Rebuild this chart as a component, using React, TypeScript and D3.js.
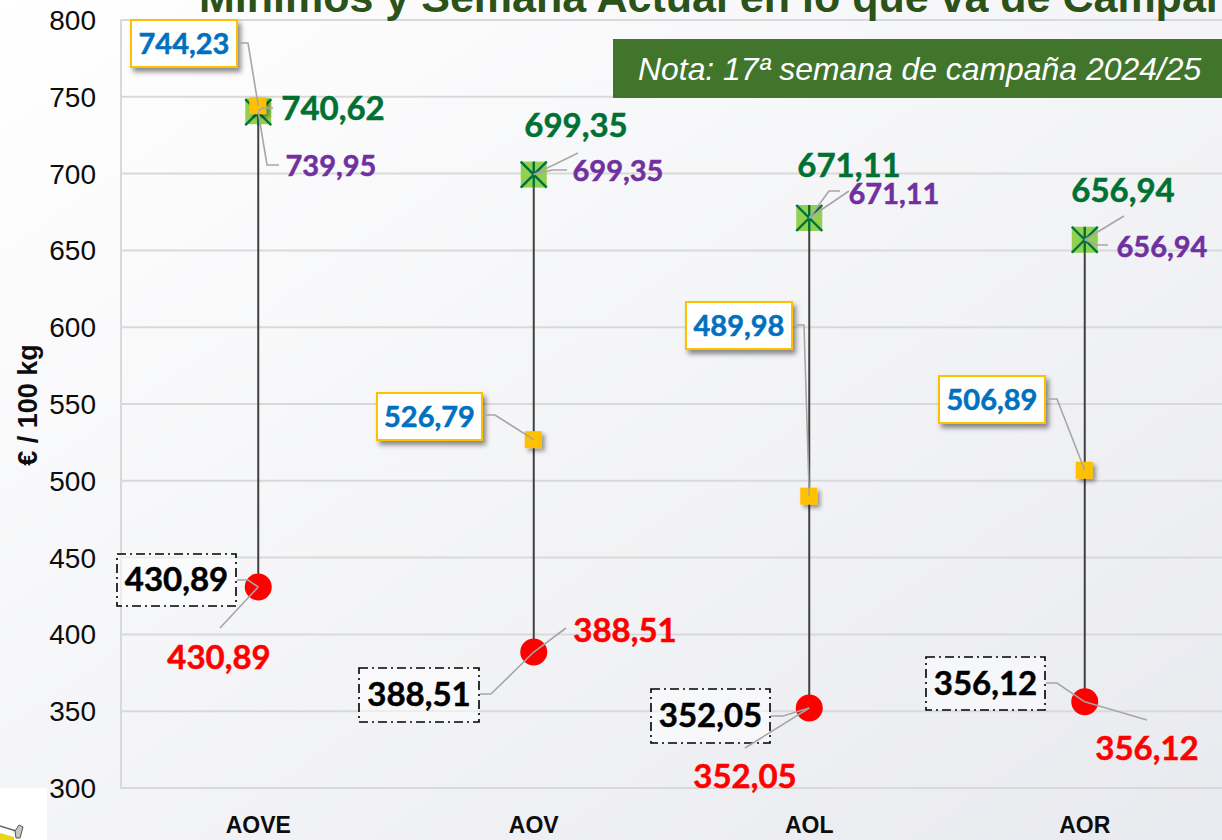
import React from "react";
import * as d3 from "d3";

const categories = ["AOVE", "AOV", "AOL", "AOR"];
const maxValues = [740.62, 699.35, 671.11, 656.94];
const weekValues = [739.95, 699.35, 671.11, 656.94];
const meanValues = [744.23, 526.79, 489.98, 506.89];
const minValues = [430.89, 388.51, 352.05, 356.12];
const minBoxValues = [430.89, 388.51, 352.05, 356.12];
const yTicks = d3.range(300, 801, 50);

const W = 1222, H = 840;
const fmt = (v: number) => v.toFixed(2).replace(".", ",");
const y = d3.scaleLinear().domain([300, 800]).range([788, 20]);
const x = d3.scaleBand<string>().domain(categories).range([120.5, 1222.5]);
const cx = (c: string) => x(c)! + x.bandwidth() / 2;

type P = [number, number];
// layout only: where each label sits and the fixed part of its leader
const maxLayout: { tx: number; ty: number; leader: P[] }[] = [
  { tx: 333, ty: 120, leader: [[273, 108], [263, 108]] },
  { tx: 576, ty: 137, leader: [[578, 153]] },
  { tx: 849, ty: 177, leader: [[840, 191], [829, 191]] },
  { tx: 1123, ty: 202, leader: [[1124, 216]] },
];
const weekLayout: { tx: number; ty: number; leader: P[] }[] = [
  { tx: 331, ty: 176, leader: [[279, 165], [267, 165]] },
  { tx: 618, ty: 181, leader: [[567, 170], [552, 170]] },
  { tx: 894, ty: 204, leader: [[849, 191]] },
  { tx: 1162, ty: 257, leader: [[1108, 245], [1097, 245]] },
];
const meanLayout: { box: [number, number, number, number]; leader: P[] }[] = [
  { box: [131, 20, 106, 47], leader: [[238, 43], [248, 43]] },
  { box: [377, 393, 105, 47], leader: [[483, 415], [495, 415]] },
  { box: [686, 302, 106, 47], leader: [[793, 325], [804, 325]] },
  { box: [939, 376, 106, 47], leader: [[1046, 399], [1057, 399]] },
];
const minLayout: { tx: number; ty: number; leader: P[] }[] = [
  { tx: 219, ty: 669, leader: [[220, 628]] },
  { tx: 625, ty: 642, leader: [[566, 628]] },
  { tx: 745, ty: 788, leader: [[745, 748]] },
  { tx: 1147, ty: 760, leader: [[1147, 720]] },
];
const minBoxLayout: { box: [number, number, number, number]; leader: P[] }[] = [
  { box: [117, 554, 119, 52], leader: [[237, 580], [248, 580]] },
  { box: [359, 668, 120, 54], leader: [[480, 694], [491, 694]] },
  { box: [651, 689, 119, 54], leader: [[771, 716], [783, 716]] },
  { box: [926, 657, 119, 53], leader: [[1046, 683], [1057, 683]] },
];

const SANS = "'Liberation Sans', Arial, sans-serif";
const LABEL = "Lato, Carlito, sans-serif";
const line = d3.line();

function Leader({ pts }: { pts: P[] }) {
  return <path d={line(pts)!} fill="none" stroke="#a6a6a6" strokeWidth={1.6} />;
}

function Label({ x, y, size, fill, children }: { x: number; y: number; size: number; fill: string; children: string }) {
  return (
    <text x={x} y={y} fontSize={size} fill={fill} stroke={fill} strokeWidth={0.5} style={{ fontVariantNumeric: "tabular-nums" }}>{children}</text>
  );
}

export default function App() {
  return (
    <svg width={W} height={H} viewBox={`0 0 ${W} ${H}`} style={{ position: "absolute", left: 0, top: 0, display: "block" }}>
      <defs>
        <linearGradient id="bg" x1="0" y1="0" x2="1" y2="1">
          <stop offset="0" stopColor="#ffffff" />
          <stop offset="1" stopColor="#e9eaef" />
        </linearGradient>
        <filter id="sh" x="-20%" y="-20%" width="150%" height="160%">
          <feDropShadow dx="3" dy="4" stdDeviation="2.5" floodColor="#000" floodOpacity="0.45" />
        </filter>
        <filter id="shs" x="-40%" y="-40%" width="200%" height="200%">
          <feDropShadow dx="3" dy="3" stdDeviation="2" floodColor="#000" floodOpacity="0.4" />
        </filter>
      </defs>
      <rect width={W} height={H} fill="url(#bg)" />

      {/* gridlines and axes */}
      {yTicks.map((t) => (
        <line key={t} x1={120.5} x2={W} y1={y(t)} y2={y(t)} stroke="#d9d9d9" strokeWidth={2} />
      ))}
      <line x1={121} x2={121} y1={y(800)} y2={y(300)} stroke="#d9d9d9" strokeWidth={2} />
      {yTicks.map((t) => (
        <text key={t} x={96} y={y(t) + 10} textAnchor="end" fontFamily={SANS} fontSize={28} fill="#0d0d0d">{t}</text>
      ))}
      <text transform="translate(37,405) rotate(-90)" textAnchor="middle" fontFamily={SANS} fontWeight={700} fontSize={27} fill="#0d0d0d">€ / 100 kg</text>
      {categories.map((c) => (
        <text key={c} x={cx(c)} y={833} textAnchor="middle" fontFamily={SANS} fontWeight={700} fontSize={23} fill="#0d0d0d">{c}</text>
      ))}

      {/* title, cut by the top of the picture */}
      <text x={199} y={12} fontFamily={SANS} fontWeight={700} fontSize={43} fill="#2b5219">Mínimos y Semana Actual en lo que va de Campaña</text>

      {/* note */}
      <rect x={613} y={39} width={609} height={59} fill="#41752c" />
      <text x={638} y={80} fontFamily={SANS} fontStyle="italic" fontSize={31.9} fill="#fff">Nota: 17ª semana de campaña 2024/25</text>

      {/* high-low lines */}
      {categories.map((c, i) => (
        <line key={c} x1={cx(c)} x2={cx(c)} y1={y(maxValues[i])} y2={y(minValues[i])} stroke="#404040" strokeWidth={2} />
      ))}

      {/* max + week markers */}
      {categories.map((c, i) => {
        const px = cx(c), py = y(maxValues[i]), r = 13;
        const wy = y(weekValues[i]);
        return (
          <g key={c}>
            <rect x={px - r} y={py - r} width={2 * r} height={2 * r} fill="#92d050" />
            <path d={`M${px - r},${wy - r}L${px + r},${wy + r}M${px + r},${wy - r}L${px - r},${wy + r}M${px},${wy - r}L${px},${wy + r}`} stroke="#00703c" strokeWidth={2.4} />
          </g>
        );
      })}
      {/* mean markers */}
      {categories.map((c, i) => (
        <rect key={c} x={cx(c) - 9} y={y(meanValues[i]) - 8.5} width={17} height={17} fill="#ffc000" filter="url(#shs)" />
      ))}
      {/* min markers */}
      {categories.map((c, i) => (
        <circle key={c} cx={cx(c)} cy={y(minValues[i])} r={13.5} fill="#ff0000" />
      ))}

      {/* label boxes */}
      {categories.map((c, i) => {
        const [bx, by, bw, bh] = meanLayout[i].box;
        const [kx, ky, kw, kh] = minBoxLayout[i].box;
        return (
          <g key={c}>
            <rect x={bx} y={by} width={bw} height={bh} fill="#fff" stroke="#ffc000" strokeWidth={2} filter="url(#sh)" />
            <rect x={kx} y={ky} width={kw} height={kh} fill="#fff" fillOpacity={0.5} stroke="#000" strokeWidth={1.6} strokeDasharray="9 4 2 4" />
          </g>
        );
      })}

      {/* leaders */}
      {categories.map((c, i) => (
        <g key={c}>
          <Leader pts={[...maxLayout[i].leader, [cx(c), y(maxValues[i])]]} />
          <Leader pts={[...weekLayout[i].leader, [cx(c), y(weekValues[i])]]} />
          <Leader pts={[...meanLayout[i].leader, [cx(c), y(meanValues[i])]]} />
          <Leader pts={[...minLayout[i].leader, [cx(c), y(minValues[i])]]} />
          <Leader pts={[...minBoxLayout[i].leader, [cx(c), y(minBoxValues[i])]]} />
        </g>
      ))}

      {/* labels */}
      {categories.map((c, i) => {
        const [bx, by, bw, bh] = meanLayout[i].box;
        const [kx, ky, kw, kh] = minBoxLayout[i].box;
        return (
          <g key={c} fontFamily={LABEL} fontWeight={700} textAnchor="middle">
            <Label x={maxLayout[i].tx} y={maxLayout[i].ty} size={33} fill="#007033">{fmt(maxValues[i])}</Label>
            <Label x={weekLayout[i].tx} y={weekLayout[i].ty} size={29} fill="#7030a0">{fmt(weekValues[i])}</Label>
            <Label x={bx + bw / 2} y={by + bh / 2 + 10} size={29} fill="#0070c0">{fmt(meanValues[i])}</Label>
            <Label x={kx + kw / 2} y={ky + kh / 2 + 11} size={33} fill="#000">{fmt(minBoxValues[i])}</Label>
            <Label x={minLayout[i].tx} y={minLayout[i].ty} size={33} fill="#ff0000">{fmt(minValues[i])}</Label>
          </g>
        );
      })}

      {/* logo fragment, bottom left */}
      <rect x={0} y={788} width={47} height={52} fill="#fff" />
      <path d="M0,833L14,837L14,840L0,840Z" fill="#e6d818" />
      <path d="M0,826L16,831" stroke="#666" strokeWidth={1.5} />
      <path d="M15,831L19,825L23,827L20,838L16,838Z" fill="#c8c8bc" stroke="#555" strokeWidth={1} />
    </svg>
  );
}
